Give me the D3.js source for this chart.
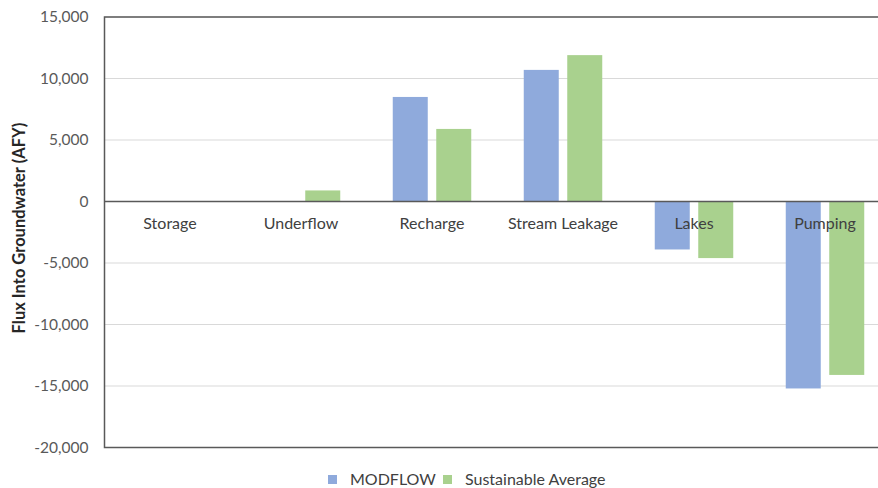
<!DOCTYPE html>
<html><head><meta charset="utf-8">
<script src="https://cdn.jsdelivr.net/npm/d3@7"></script>
<style>body{margin:0;background:#fff;} text{font-family:Lato,"Open Sans",sans-serif;}</style>
</head><body>
<svg id="c" width="878" height="488"></svg>
<script>
const categories = ["Storage","Underflow","Recharge","Stream Leakage","Lakes","Pumping"];
const seriesNames = ["MODFLOW","Sustainable Average"];
const modflow = [0, 0, 8500, 10700, -3900, -15200];
const sustainable = [0, 900, 5900, 11900, -4600, -14100];
const yTicks = [-20000,-15000,-10000,-5000,0,5000,10000,15000];
const colors = ["#8FAADC","#A9D18E"];

const svg = d3.select("#c");
const L = 104.5, R = 890.5, T = 17, B = 447.5;
const x = d3.scaleBand().domain(categories).range([L,R]).paddingInner(0).paddingOuter(0);
const y = d3.scaleLinear().domain([-20000,15000]).range([B,T]);
const fmt = d => d3.format(",")(d).replace("\u2212","-");

// gridlines
svg.append("g").selectAll("line").data(yTicks).join("line")
  .attr("x1",L).attr("x2",R).attr("y1",d=>y(d)).attr("y2",d=>y(d))
  .attr("stroke","#D9D9D9").attr("stroke-width",1);

// bars
const bw = 35, gap = 8.5;
const series = [modflow, sustainable];
series.forEach((vals,si)=>{
  svg.append("g").selectAll("rect").data(vals).join("rect")
    .attr("x",(d,i)=>x(categories[i]) + x.bandwidth()/2 - (bw*2+gap)/2 + si*(bw+gap))
    .attr("width",bw)
    .attr("y",d=>Math.min(y(d),y(0)))
    .attr("height",d=>Math.abs(y(d)-y(0)))
    .attr("fill",colors[si]);
});

// zero line
svg.append("line").attr("x1",L).attr("x2",R).attr("y1",y(0)).attr("y2",y(0))
  .attr("stroke","#595959").attr("stroke-width",1.5);
// border
svg.append("rect").attr("x",L).attr("y",T).attr("width",R-L).attr("height",B-T)
  .attr("fill","none").attr("stroke","#595959").attr("stroke-width",1.5);

// y axis labels
const yAxis = d3.axisLeft(y).tickValues(yTicks).tickFormat(fmt).tickSize(0).tickPadding(16);
const ga = svg.append("g").attr("transform",`translate(${L},0)`).call(yAxis);
ga.select(".domain").remove();
ga.selectAll("text").attr("font-size",15.5).attr("fill","#595959")
  .style("font-family","Lato,'Open Sans',sans-serif");

// category labels
svg.append("g").selectAll("text").data(categories).join("text")
  .attr("x",d=>x(d)+x.bandwidth()/2).attr("y",y(0)+27)
  .attr("text-anchor","middle").attr("font-size",16).attr("fill","#404040").text(d=>d);

// y title
svg.append("text").attr("transform",`translate(25,228) rotate(-90)`)
  .attr("text-anchor","middle").attr("font-size",16.5).attr("font-weight","bold")
  .attr("fill","#262626").text("Flux Into Groundwater (AFY)");

// legend
const lg = [{n:seriesNames[0],x:328},{n:seriesNames[1],x:443}];
lg.forEach((d,i)=>{
  svg.append("rect").attr("x",d.x).attr("y",475).attr("width",9).attr("height",9).attr("fill",colors[i]);
  svg.append("text").attr("x",d.x+22).attr("y",485).attr("font-size",16).attr("fill","#404040").text(d.n);
});
</script>
</body></html>
